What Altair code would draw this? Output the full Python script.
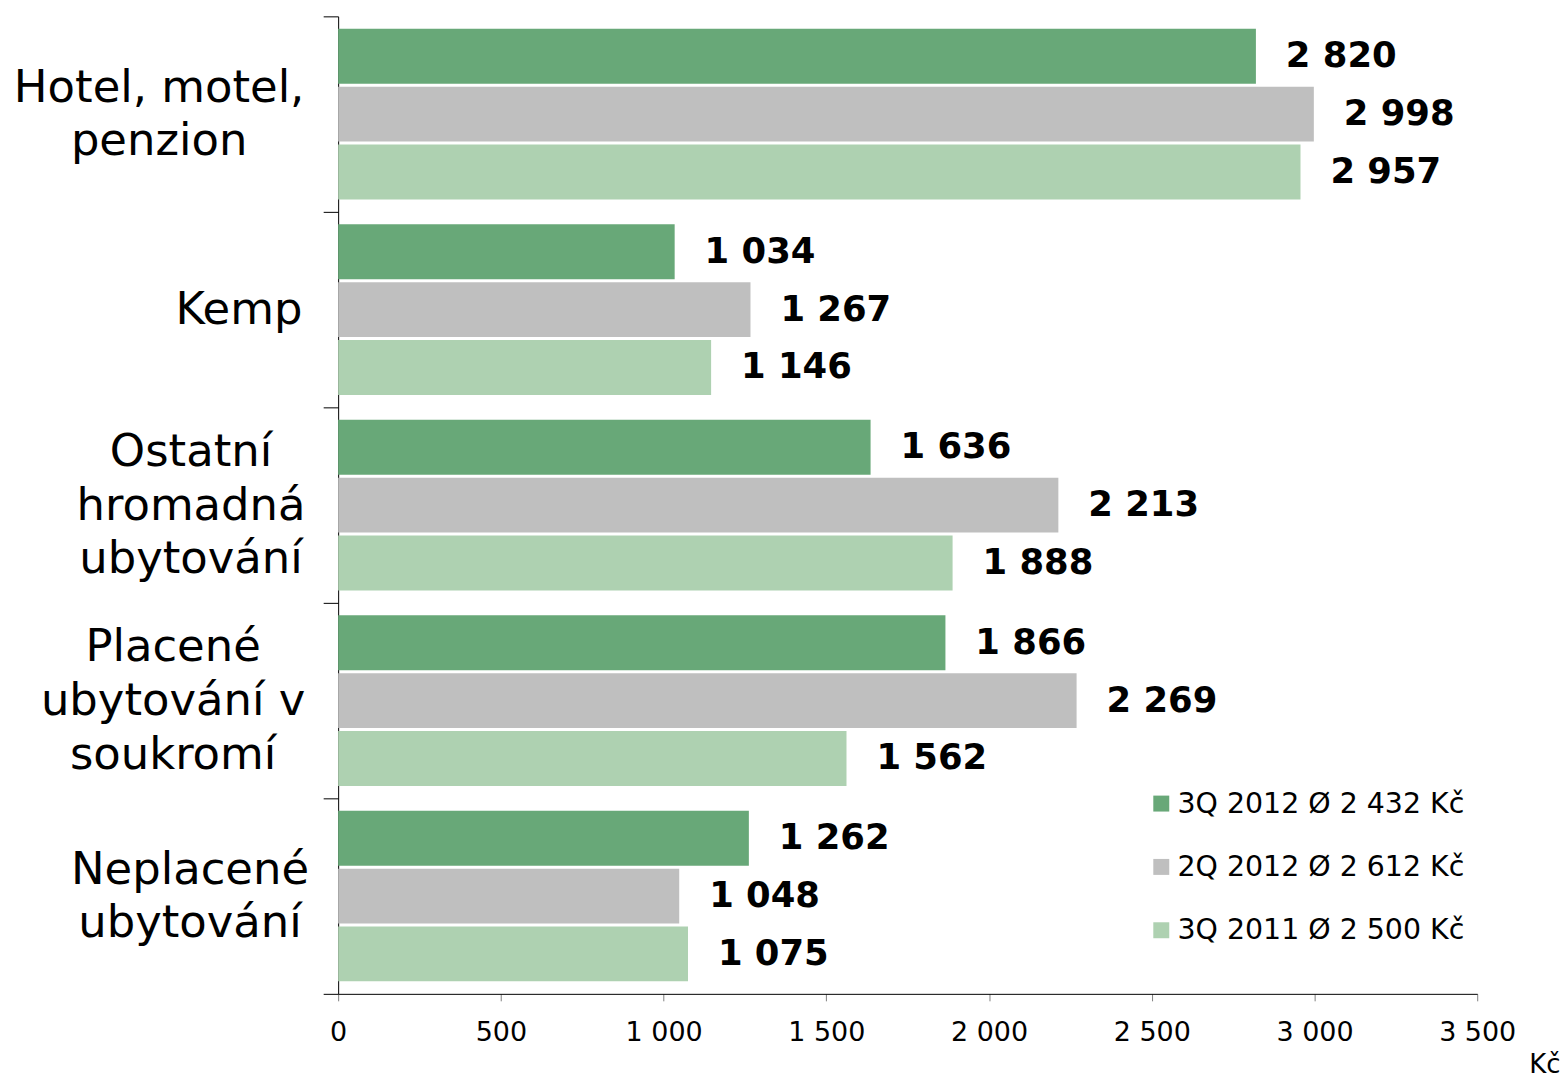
import altair as alt
import pandas as pd

categories = [
    "Hotel, motel,|penzion",
    "Kemp",
    "Ostatní|hromadná|ubytování",
    "Placené|ubytování v|soukromí",
    "Neplacené|ubytování",
]
series = ["3Q 2012 Ø 2 432 Kč", "2Q 2012 Ø 2 612 Kč", "3Q 2011 Ø 2 500 Kč"]
values_3q2012 = [2820, 1034, 1636, 1866, 1262]
values_2q2012 = [2998, 1267, 2213, 2269, 1048]
values_3q2011 = [2957, 1146, 1888, 1562, 1075]
colors = ["#68A878", "#BFBFBF", "#AED1B1"]
x_ticks = [0, 500, 1000, 1500, 2000, 2500, 3000, 3500]

rows = []
for s, vals in zip(series, [values_3q2012, values_2q2012, values_3q2011]):
    for c, v in zip(categories, vals):
        rows.append({"cat": c, "series": s, "value": v})
df = pd.DataFrame(rows)

FONT = "DejaVu Sans"
LINE_H = 54

label_pad = {
    "condition": [
        {"test": f"datum.value == '{categories[0]}'", "value": 165},
        {"test": f"datum.value == '{categories[1]}'", "value": 85},
        {"test": f"datum.value == '{categories[2]}'", "value": 133},
        {"test": f"datum.value == '{categories[3]}'", "value": 151},
    ],
    "value": 134,
}
label_off = {
    "condition": [
        {"test": f"datum.value == '{c}'", "value": -(len(c.split('|')) - 1) * LINE_H / 2}
        for c in categories[:-1]
    ],
    "value": -(len(categories[-1].split('|')) - 1) * LINE_H / 2,
}
label_size = {"condition": {"test": "!datum.value", "value": 0}, "value": 45}

y_enc = alt.Y(
    "cat:N",
    sort=categories,
    scale=alt.Scale(paddingInner=0, paddingOuter=0),
    axis=alt.Axis(
        title=None,
        labelExpr="datum.value ? split(datum.value, '|') : ''",
        tickBand="extent",
        tickSize=15,
        tickColor="black",
        domainColor="black",
        labelFont=FONT,
        labelFontSize=label_size,
        labelLineHeight=LINE_H,
        labelAlign="center",
        labelBaseline="middle",
        labelColor="black",
        labelLimit=500,
        labelPadding=label_pad,
        labelOffset=label_off,
        minExtent=319,
        maxExtent=319,
    ),
)
yoff_enc = alt.YOffset(
    "series:N",
    sort=series,
    scale=alt.Scale(paddingInner=0.0517, paddingOuter=0.2155),
)
x_enc = alt.X(
    "value:Q",
    scale=alt.Scale(domain=[0, 3500], nice=False),
    axis=alt.Axis(
        values=x_ticks,
        labelExpr="replace(format(datum.value, ','), ',', ' ')",
        labelFlush=False,
        title="Kč",
        titleX=1225,
        titleY=79,
        titleAlign="right",
        titleBaseline="alphabetic",
        titleFont=FONT,
        titleFontSize=26,
        titleFontWeight="normal",
        titleColor="black",
        tickSize=7,
        tickColor="#808080",
        domainColor="black",
        labelPadding=19,
        labelFont=FONT,
        labelFontSize=27,
        labelColor="black",
        grid=False,
    ),
)

bars = alt.Chart(df).mark_bar().encode(
    x=x_enc,
    y=y_enc,
    yOffset=yoff_enc,
    color=alt.Color(
        "series:N",
        sort=series,
        scale=alt.Scale(domain=series, range=colors),
        legend=alt.Legend(
            orient="none",
            legendX=811,
            legendY=775,
            title=None,
            symbolType="square",
            symbolSize=256,
            symbolStrokeWidth=0,
            symbolOpacity=1,
            labelFont=FONT,
            labelFontSize=28.5,
            labelColor="black",
            labelLimit=500,
            labelOffset=2,
            rowPadding=34.5,
            padding=0,
        ),
    ),
)

texts = alt.Chart(df).transform_calculate(
    label="replace(format(datum.value, ','), ',', ' ')"
).mark_text(
    align="left", baseline="middle", dx=30, font=FONT, fontSize=35.5, fontWeight="bold", color="black"
).encode(
    x=alt.X("value:Q"),
    y=alt.Y("cat:N", sort=categories),
    yOffset=alt.YOffset("series:N", sort=series),
    text="label:N",
)

chart = (
    alt.layer(bars, texts)
    .properties(
        width=1142,
        height=980,
        padding={"left": 5, "top": 6, "right": 0, "bottom": 0},
    )
    .configure_view(stroke=None)
)

chart.save("out.html", embed_options={"renderer": "svg", "actions": False})
